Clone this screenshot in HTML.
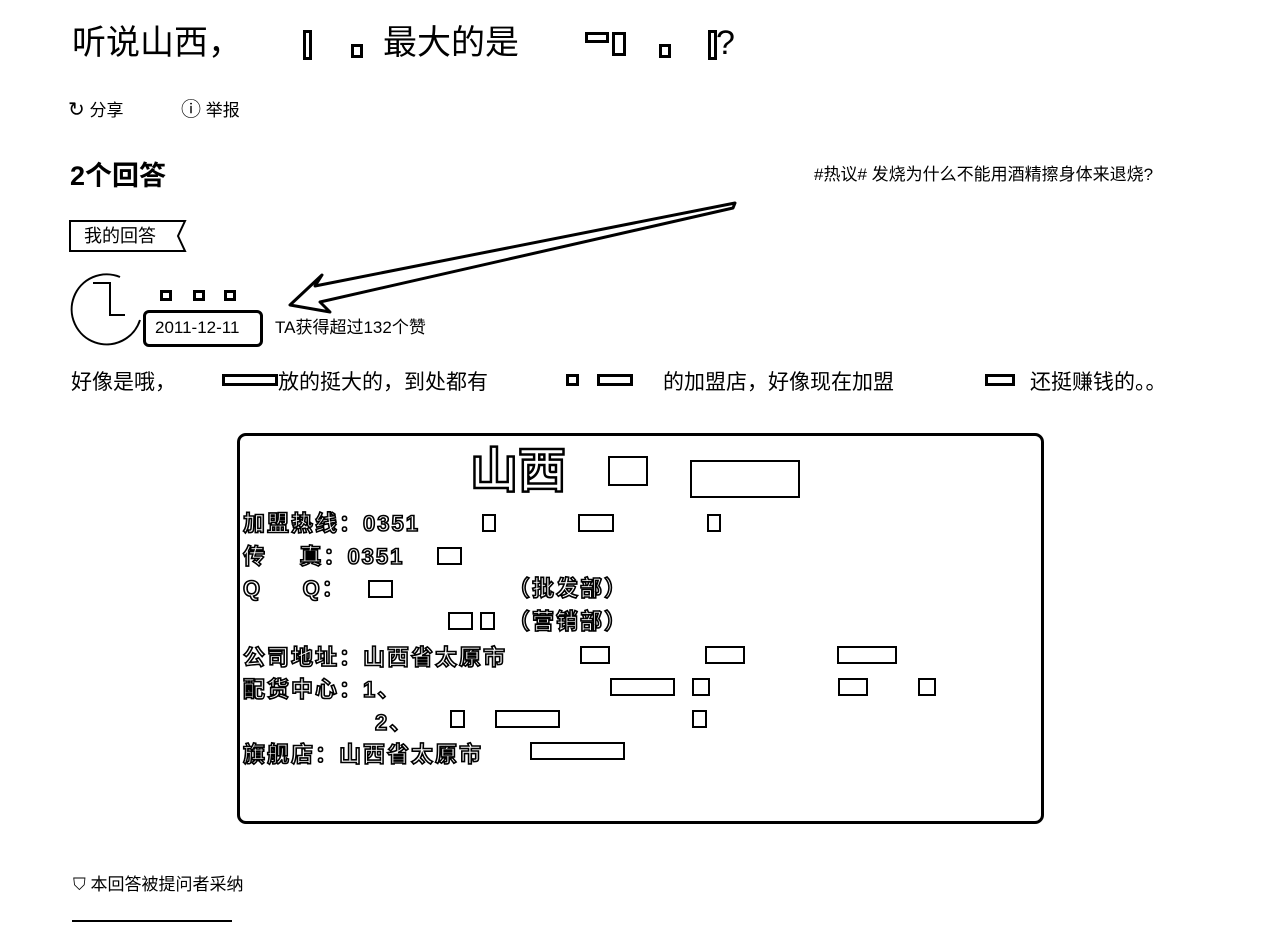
<!DOCTYPE html>
<html><head><meta charset="utf-8"><style>
html,body{margin:0;padding:0;background:#fff;width:1280px;height:925px;overflow:hidden;position:relative;font-family:"Liberation Sans","Noto Sans CJK SC",sans-serif;color:#000}
.a{position:absolute;white-space:nowrap;line-height:1}
.sq{position:absolute;border:3px solid #000;background:#fff;box-sizing:border-box}
.h{color:#fff;-webkit-text-stroke:1.6px #000;font-weight:bold;letter-spacing:2px}
</style></head><body>
<div class="a" style="left:72px;top:26px;font-size:34px">听说山西，</div>
<div class="sq" style="left:303px;top:30px;width:9px;height:30px"></div>
<div class="sq" style="left:351px;top:44px;width:12px;height:14px"></div>
<div class="a" style="left:383px;top:26px;font-size:34px">最大的是</div>
<div class="sq" style="left:585px;top:32px;width:24px;height:11px"></div>
<div class="sq" style="left:612px;top:32px;width:14px;height:24px"></div>
<div class="sq" style="left:659px;top:44px;width:12px;height:14px"></div>
<div class="sq" style="left:708px;top:30px;width:9px;height:30px"></div>
<div class="a" style="left:716px;top:26px;font-size:34px">?</div>

<div class="a" style="left:68px;top:100px;font-size:17px"><span style="font-size:20px">↻</span> 分享</div>
<div class="a" style="left:181px;top:100px;font-size:17px"><span style="font-size:20px">ⓘ</span> 举报</div>

<div class="a" style="left:70px;top:163px;font-size:27px;font-weight:bold">2个回答</div>
<div class="a" style="left:814px;top:166px;font-size:17px">#热议# 发烧为什么不能用酒精擦身体来退烧?</div>

<svg class="a" style="left:0;top:0" width="1280" height="925">
<path d="M70,221 L185,221 L178,236 L185,251 L70,251 Z" fill="none" stroke="#000" stroke-width="2"/>
<path d="M120,277 A35,35 0 1 0 140,320" fill="none" stroke="#000" stroke-width="2"/>
<path d="M93,283 L110,283 L110,315 L125,315" fill="none" stroke="#000" stroke-width="2"/>
<path d="M735,203 L315,286 L322,275 L290,305 L330,312 L320,302 L733,208 Z" fill="#fff" stroke="#000" stroke-width="3" stroke-linejoin="round"/>
</svg>
<div class="a" style="left:84px;top:227px;font-size:18px">我的回答</div>
<div class="sq" style="left:160px;top:290px;width:12px;height:11px"></div>
<div class="sq" style="left:193px;top:290px;width:12px;height:11px"></div>
<div class="sq" style="left:224px;top:290px;width:12px;height:11px"></div>
<div style="position:absolute;left:143px;top:310px;width:120px;height:37px;border:3px solid #000;border-radius:6px;box-sizing:border-box"></div>
<div class="a" style="left:155px;top:319px;font-size:17px">2011-12-11</div>
<div class="a" style="left:275px;top:319px;font-size:17px">TA获得超过132个赞</div>

<div class="a" style="left:71px;top:372px;font-size:21px">好像是哦，</div>
<div class="sq" style="left:222px;top:374px;width:56px;height:12px"></div>
<div class="a" style="left:278px;top:372px;font-size:21px">放的挺大的，到处都有</div>
<div class="sq" style="left:566px;top:374px;width:13px;height:12px"></div>
<div class="sq" style="left:597px;top:374px;width:36px;height:12px"></div>
<div class="a" style="left:663px;top:372px;font-size:21px">的加盟店，好像现在加盟</div>
<div class="sq" style="left:985px;top:374px;width:30px;height:12px"></div>
<div class="a" style="left:1030px;top:372px;font-size:21px">还挺赚钱的。。</div>

<div style="position:absolute;left:237px;top:433px;width:807px;height:391px;border:3px solid #000;border-radius:9px;box-sizing:border-box"></div>
<div class="a h" style="left:470px;top:448px;font-size:48px;-webkit-text-stroke:2.5px #000;letter-spacing:0">山西</div>
<div class="sq" style="left:608px;top:456px;width:40px;height:30px;border-width:2px"></div>
<div class="sq" style="left:690px;top:460px;width:110px;height:38px;border-width:2px"></div>
<div class="a h" style="left:243px;top:513px;font-size:22px">加盟热线：0351</div>
<div class="a h" style="left:243px;top:546px;font-size:22px">传&nbsp;&nbsp;&nbsp;&nbsp;真：0351</div>
<div class="a h" style="left:243px;top:578px;font-size:22px">Q&nbsp;&nbsp;&nbsp;&nbsp;&nbsp;Q：</div>
<div class="a h" style="left:508px;top:578px;font-size:22px">（批发部）</div>
<div class="a h" style="left:508px;top:611px;font-size:22px">（营销部）</div>
<div class="a h" style="left:243px;top:647px;font-size:22px">公司地址：山西省太原市</div>
<div class="a h" style="left:243px;top:679px;font-size:22px">配货中心：1、</div>
<div class="a h" style="left:375px;top:712px;font-size:22px">2、</div>
<div class="a h" style="left:243px;top:744px;font-size:22px">旗舰店：山西省太原市</div>
<div class="sq" style="left:482px;top:514px;width:14px;height:18px;border-width:2px"></div>
<div class="sq" style="left:578px;top:514px;width:36px;height:18px;border-width:2px"></div>
<div class="sq" style="left:707px;top:514px;width:14px;height:18px;border-width:2px"></div>
<div class="sq" style="left:437px;top:547px;width:25px;height:18px;border-width:2px"></div>
<div class="sq" style="left:368px;top:580px;width:25px;height:18px;border-width:2px"></div>
<div class="sq" style="left:448px;top:612px;width:25px;height:18px;border-width:2px"></div>
<div class="sq" style="left:480px;top:612px;width:15px;height:18px;border-width:2px"></div>
<div class="sq" style="left:580px;top:646px;width:30px;height:18px;border-width:2px"></div>
<div class="sq" style="left:705px;top:646px;width:40px;height:18px;border-width:2px"></div>
<div class="sq" style="left:837px;top:646px;width:60px;height:18px;border-width:2px"></div>
<div class="sq" style="left:610px;top:678px;width:65px;height:18px;border-width:2px"></div>
<div class="sq" style="left:692px;top:678px;width:18px;height:18px;border-width:2px"></div>
<div class="sq" style="left:838px;top:678px;width:30px;height:18px;border-width:2px"></div>
<div class="sq" style="left:918px;top:678px;width:18px;height:18px;border-width:2px"></div>
<div class="sq" style="left:450px;top:710px;width:15px;height:18px;border-width:2px"></div>
<div class="sq" style="left:495px;top:710px;width:65px;height:18px;border-width:2px"></div>
<div class="sq" style="left:692px;top:710px;width:15px;height:18px;border-width:2px"></div>
<div class="sq" style="left:530px;top:742px;width:95px;height:18px;border-width:2px"></div>

<div class="a" style="left:73px;top:876px;font-size:17px">⛉ 本回答被提问者采纳</div>
<div style="position:absolute;left:72px;top:920px;width:160px;height:2px;background:#000"></div>
</body></html>
